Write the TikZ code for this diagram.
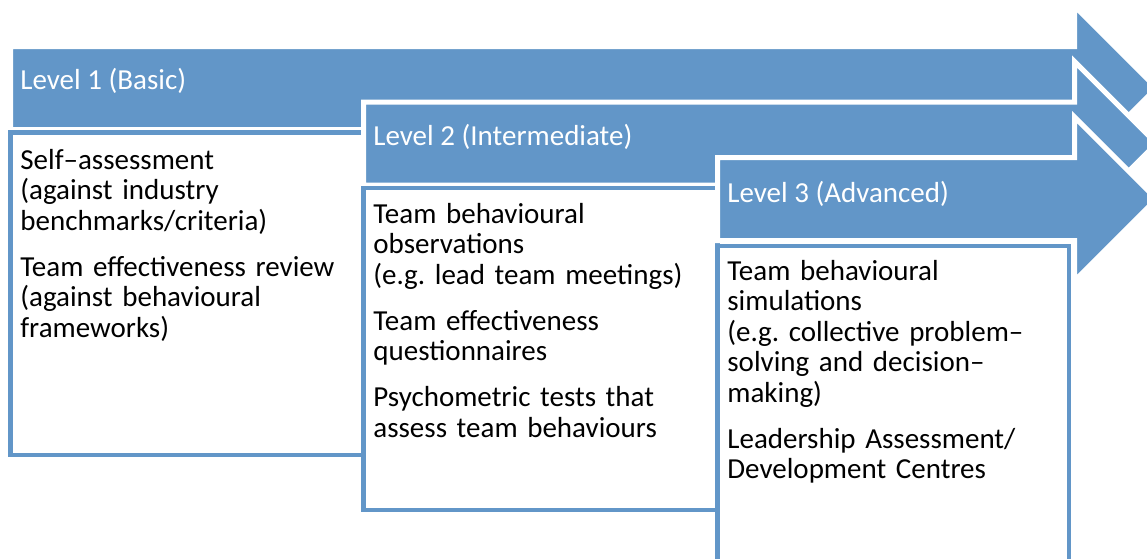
\documentclass[tikz,border=0pt]{standalone}
\usepackage{fontspec}
\setmainfont{Carlito}
\usepackage{xcolor}
\usetikzlibrary{positioning}

\definecolor{lvlblue}{RGB}{98,150,200}

\tikzset{
  x=0.5pt, y=-0.5pt,
  lvlarrow/.style={fill=lvlblue, draw=white, line width=2.5pt, line join=miter},
  lvlbox/.style={fill=white, draw=lvlblue, line width=2.25pt},
  lvltext/.style={anchor=base west, inner sep=0pt, text=white,
    font=\fontsize{14.5}{15.25}\selectfont},
  itemtext/.style={anchor=base west, inner sep=0pt, text=black, align=left,
    text width=170pt, font=\fontsize{14.5}{15.25}\selectfont\frenchspacing}
}

\begin{document}
\begin{tikzpicture}
  \def\Xh{1074.5};
  \def\Xt{1156.5};
  \def\Hb{41.5};
  \def\Hh{82};
  \def\Ca{88};
  \def\Cb{143.5};
  \def\Cc{199};
  \useasboundingbox (0,0) rectangle (1147,558);
  \clip (0,0) rectangle (1147,558);

        % level 1
        \draw[lvlarrow] (10.5, \Ca - \Hb) -- (\Xh, \Ca - \Hb) -- (\Xh, \Ca - \Hh)
          -- (\Xt, \Ca) -- (\Xh, \Ca + \Hh) -- (\Xh, \Ca + \Hb) -- (10.5, \Ca + \Hb) -- cycle;
        \draw[lvlbox] (10.5, 132.5) rectangle (363.5, 455);
        \node[lvltext] (lvl1) at (20, 89) {Level 1 (Basic)};
        \node[itemtext] (items1) at (20, 169) {Self–assessment\\(against industry\\benchmarks/criteria)\\[7.75pt]Team effectiveness review\\(against behavioural\\frameworks)};

        % level 2
        \draw[lvlarrow] (363.5, \Cb - \Hb) -- (\Xh, \Cb - \Hb) -- (\Xh, \Cb - \Hh)
          -- (\Xt, \Cb) -- (\Xh, \Cb + \Hh) -- (\Xh, \Cb + \Hb) -- (363.5, \Cb + \Hb) -- cycle;
        \draw[lvlbox] (363.5, 188) rectangle (717.5, 510);
        \node[lvltext] (lvl2) at (373, 145) {Level 2 (Intermediate)};
        \node[itemtext] (items2) at (373, 223) {Team behavioural\\observations\\(e.g. lead team meetings)\\[7.75pt]Team effectiveness\\questionnaires\\[7.75pt]Psychometric tests that\\assess team behaviours};

        % level 3
        \draw[lvlarrow] (717.5, \Cc - \Hb) -- (\Xh, \Cc - \Hb) -- (\Xh, \Cc - \Hh)
          -- (\Xt, \Cc) -- (\Xh, \Cc + \Hh) -- (\Xh, \Cc + \Hb) -- (717.5, \Cc + \Hb) -- cycle;
        \draw[lvlbox] (717.5, 246) rectangle (1069, 575);
        \node[lvltext] (lvl3) at (727, 202) {Level 3 (Advanced)};
        \node[itemtext] (items3) at (727, 280) {Team behavioural\\simulations\\(e.g. collective problem–\\solving and decision–\\making)\\[7.75pt]Leadership Assessment/\\Development Centres};

\end{tikzpicture}
\end{document}
